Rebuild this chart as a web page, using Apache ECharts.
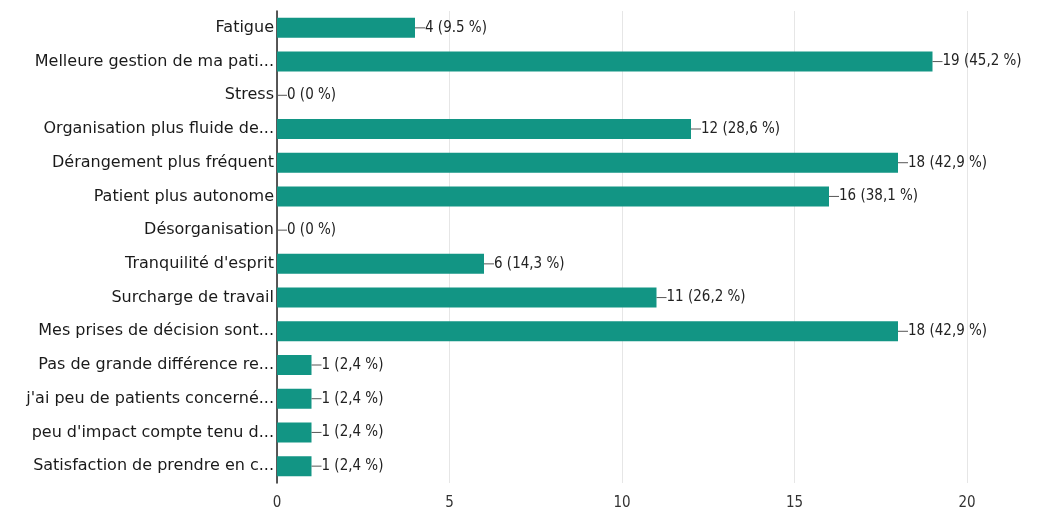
<!DOCTYPE html>
<html>
<head>
<meta charset="utf-8">
<script src="https://cdn.jsdelivr.net/npm/echarts@6/dist/echarts.min.js"></script>
<style>
    html, body { margin: 0; padding: 0; background: #fff; }
    #chart { width: 1051px; height: 519px; }
</style>
</head>
<body>
<div id="chart"></div>
<script>
// categories, top to bottom as in the picture
var categories = [
    'Fatigue',
    'Melleure gestion de ma pati...',
    'Stress',
    'Organisation plus fluide de...',
    'Dérangement plus fréquent',
    'Patient plus autonome',
    'Désorganisation',
    'Tranquilité d\'esprit',
    'Surcharge de travail',
    'Mes prises de décision sont...',
    'Pas de grande différence re...',
    'j\'ai peu de patients concerné...',
    'peu d\'impact compte tenu d...',
    'Satisfaction de prendre en c...'
];
var counts = [4, 19, 0, 12, 18, 16, 0, 6, 11, 18, 1, 1, 1, 1];
var percents = ['9.5 %', '45,2 %', '0 %', '28,6 %', '42,9 %', '38,1 %', '0 %', '14,3 %', '26,2 %', '42,9 %', '2,4 %', '2,4 %', '2,4 %', '2,4 %'];
var xTicks = [0, 5, 10, 15, 20];

var chart = echarts.init(document.getElementById('chart'));
var narrow = '"DejaVu Sans Condensed", sans-serif';

chart.setOption({
    animation: false,
    grid: { left: 277, right: 84, top: 11, bottom: 36 },
    xAxis: {
        type: 'value',
        min: xTicks[0],
        max: xTicks[xTicks.length - 1],
        interval: 5,
        axisLine: { show: false },
        axisTick: { show: false },
        splitLine: { lineStyle: { color: '#e6e6e6' } },
        axisLabel: { color: '#333', fontSize: 15, fontFamily: narrow, margin: 13 }
    },
    yAxis: {
        type: 'category',
        inverse: true,
        data: categories,
        axisLine: { show: true, lineStyle: { color: '#222', width: 1.5 } },
        axisTick: { show: false },
        axisLabel: { color: '#1a1a1a', fontSize: 16, fontFamily: '"DejaVu Sans", sans-serif', margin: 3 }
    },
    series: [{
        type: 'bar',
        data: counts,
        barWidth: 20,
        itemStyle: { color: '#129584' },
        label: {
            show: true,
            position: 'right',
            distance: 0,
            fontSize: 15,
            fontFamily: narrow,
            color: '#222',
            formatter: function (p) {
                return '{l| }' + p.value + ' (' + percents[p.dataIndex] + ')';
            },
            rich: {
                l: { width: 10, height: 1, backgroundColor: '#555', padding: 0 }
            }
        }
    }]
});
</script>
</body>
</html>
